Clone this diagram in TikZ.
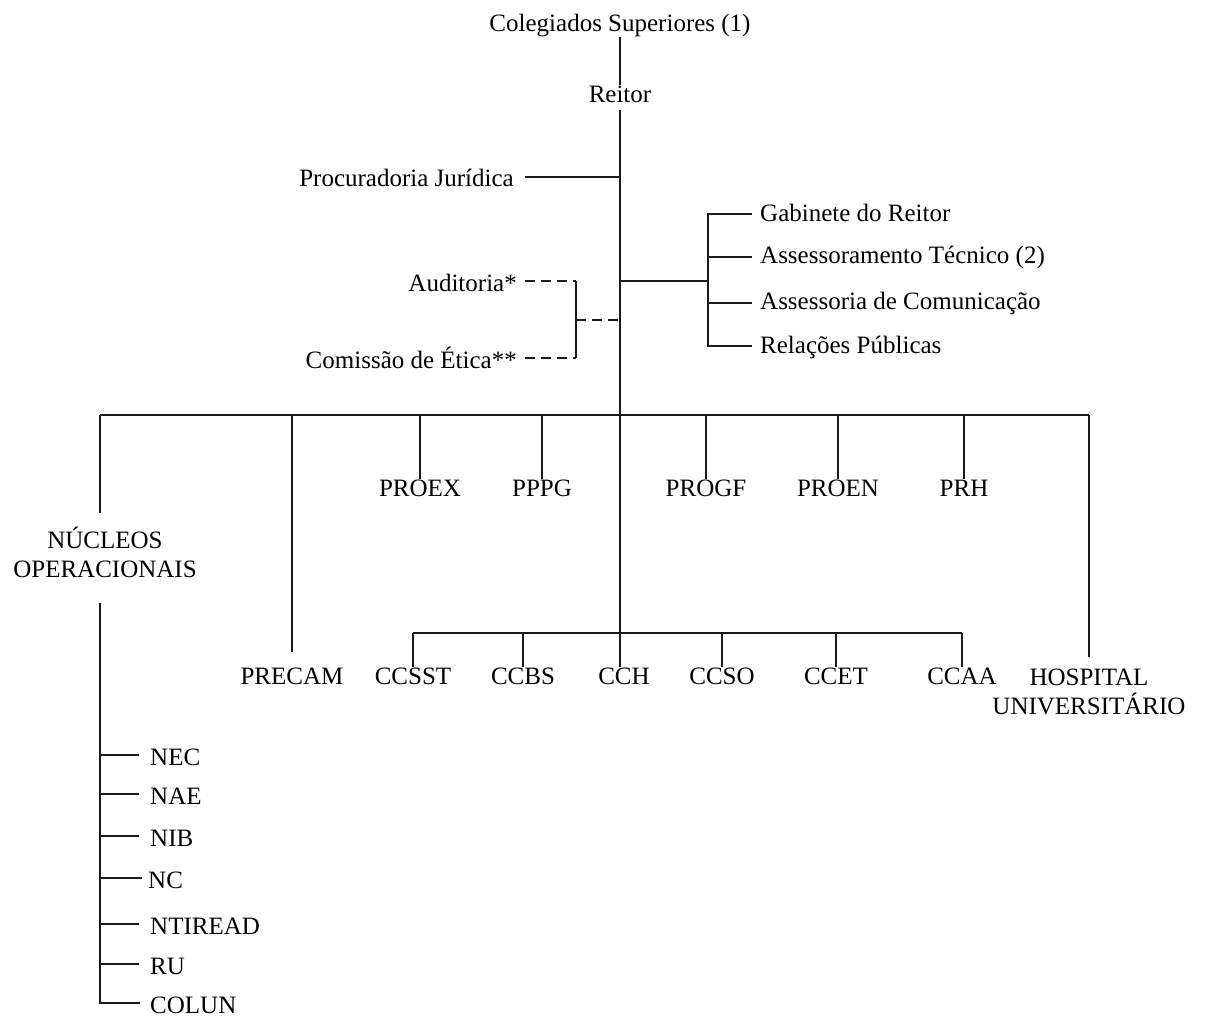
\documentclass[tikz,border=0pt]{standalone}
\usepackage{fontspec}
\setmainfont{Liberation Serif}
\usetikzlibrary{calc}
\begin{document}
\begin{tikzpicture}[x=1pt,y=-1pt,
  lbl/.style={inner sep=0pt, font=\fontsize{25}{29}\selectfont},
  ln/.style={line width=1.6pt, black!90},
  dsh/.style={ln, dash pattern=on 10pt off 6pt}]
\useasboundingbox[fill=white] (0,0) rectangle (1206,1017);

% ---- top part ----
\node[lbl,anchor=base] (coleg) at (620,31) {Colegiados Superiores (1)};
\node[lbl,anchor=base] (reitor) at (620,102) {Reitor};
\node[lbl,anchor=base east] (proc) at (514,186) {Procuradoria Jurídica};
\node[lbl,anchor=base east] (aud) at (517,291) {Auditoria*};
\node[lbl,anchor=base east] (etica) at (517,368) {Comissão de Ética**};
\node[lbl,anchor=base west] (gab) at (760,221) {Gabinete do Reitor};
\node[lbl,anchor=base west] (asst) at (760,263) {Assessoramento Técnico (2)};
\node[lbl,anchor=base west] (ascom) at (760,309) {Assessoria de Comunicação};
\node[lbl,anchor=base west] (rp) at (760,353) {Relações Públicas};

% ---- first level ----
\node[lbl,anchor=base] (proex) at (420,496) {PROEX};
\node[lbl,anchor=base] (pppg) at (542,496) {PPPG};
\node[lbl,anchor=base] (progf) at (706,496) {PROGF};
\node[lbl,anchor=base] (proen) at (838,496) {PROEN};
\node[lbl,anchor=base] (prh) at (964,496) {PRH};
\node[lbl,anchor=north,align=center] (nuc) at (105,527) {NÚCLEOS\\OPERACIONAIS};
\node[lbl,anchor=base] (precam) at (292,684) {PRECAM};
\node[lbl,anchor=north,align=center] (hosp) at (1089,668.5) {HOSPITAL\\UNIVERSITÁRIO};

% ---- centres ----
\node[lbl,anchor=base] (ccsst) at (413,684) {CCSST};
\node[lbl,anchor=base] (ccbs) at (523,684) {CCBS};
\node[lbl,anchor=base] (cch) at (624,684) {CCH};
\node[lbl,anchor=base] (ccso) at (722,684) {CCSO};
\node[lbl,anchor=base] (ccet) at (836,684) {CCET};
\node[lbl,anchor=base] (ccaa) at (962,684) {CCAA};

% ---- nucleos ----
\node[lbl,anchor=base west] (nec) at (150,765) {NEC};
\node[lbl,anchor=base west] (nae) at (150,804) {NAE};
\node[lbl,anchor=base west] (nib) at (150,846) {NIB};
\node[lbl,anchor=base west] (nc) at (148,888) {NC};
\node[lbl,anchor=base west] (ntiread) at (150,934) {NTIREAD};
\node[lbl,anchor=base west] (ru) at (150,974) {RU};
\node[lbl,anchor=base west] (colun) at (150,1013) {COLUN};

% ---- coordinates ----
\coordinate (b1) at (620,415);
\coordinate (nl) at (100,415);
\coordinate (b2) at (620,633);
\coordinate (rb) at (620,281);
\coordinate (rv) at (708,281);
\coordinate (dtop) at (576,281);
\coordinate (dbot) at (576,358);
\coordinate (dmid) at (576,320);
\coordinate (dmain) at (620,320);
\coordinate (pj) at (620,177);
\coordinate (nvtop) at (100,603);

% ---- main spine ----
\draw[ln] (coleg.south) -- (reitor.north);
\draw[ln] ([yshift=-8pt]reitor.south) -- (reitor.south |- cch.north);

% procuradoria
\draw[ln] ($(proc.base east)+(11,-9)$) -- (pj);

% right group
\draw[ln] (rb) -- (rv);
\draw[ln] ($(gab.base west)+(-8,-7)$) -- ++(-44,0) |- ($(rp.base west)+(-8,-7)$);
\draw[ln] ($(asst.base west)+(-8,-6)$) -- ++(-44,0);
\draw[ln] ($(ascom.base west)+(-8,-6)$) -- ++(-44,0);

% dashed group
\draw[dsh] ($(aud.base east)+(8,-10)$) -- (dtop);
\draw[dsh] ($(etica.base east)+(8,-10)$) -- (dbot);
\draw[ln] (dtop) -- (dbot);
\draw[dsh] (dmid) -- (dmain);

% first bus
\draw[ln] (nl) -- (b1 -| hosp);
\draw[ln] (nl) -- ++(0,98);
\foreach \n in {proex,pppg,progf,proen,prh}
  \draw[ln] (b1 -| \n) -- (\n.north);
\draw[ln] (b1 -| precam) -- ([yshift=15pt]precam.north);
\draw[ln] (b1 -| hosp) -- ([yshift=12pt]hosp.north);

% second bus
\draw[ln] (b2 -| ccsst) -- (b2 -| ccaa);
\foreach \n in {ccsst,ccbs,ccso,ccet,ccaa}
  \draw[ln] (b2 -| \n) -- (\n.north);

% nucleos list
\draw[ln] (nvtop) |- ($(colun.base west)+(-10,-10)$);
\foreach \n in {nec,nae,nib,ntiread,ru}
  \draw[ln] ($(\n.base west)+(-11,-10)$) coordinate (tmp) -- (tmp -| nvtop);
\draw[ln] ($(nc.base west)+(-6,-10)$) coordinate (tmp) -- (tmp -| nvtop);
\end{tikzpicture}
\end{document}
